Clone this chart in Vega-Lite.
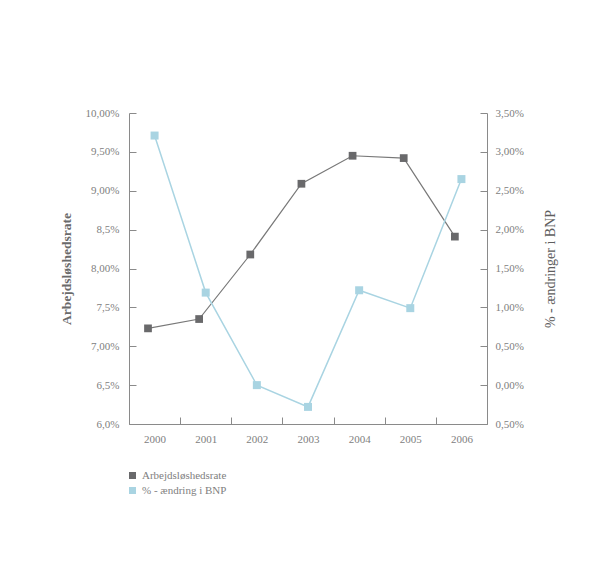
{
  "$schema": "https://vega.github.io/schema/vega-lite/v6.json",
  "autosize": {"type": "none"},
  "width": 358,
  "height": 311,
  "padding": {"left": 129, "top": 113, "right": 110, "bottom": 137},
  "background": "white",
  "config": {
    "view": {"stroke": null},
    "font": "Liberation Serif",
    "axis": {
      "grid": false,
      "domainColor": "#8a8a8a",
      "tickColor": "#8a8a8a",
      "tickSize": -7,
      "labelColor": "#808080",
      "labelFont": "Liberation Serif",
      "labelFontSize": 11,
      "titleFont": "Liberation Serif",
      "titleColor": "#6a6a6a",
      "titleFontSize": 13.5,
      "titleFontWeight": "bold"
    }
  },
  "data": {
    "values": [
      {"year": "2000", "serie": "Arbejdsløshedsrate", "value": 7.23},
      {"year": "2001", "serie": "Arbejdsløshedsrate", "value": 7.35},
      {"year": "2002", "serie": "Arbejdsløshedsrate", "value": 8.18},
      {"year": "2003", "serie": "Arbejdsløshedsrate", "value": 9.09},
      {"year": "2004", "serie": "Arbejdsløshedsrate", "value": 9.45},
      {"year": "2005", "serie": "Arbejdsløshedsrate", "value": 9.42},
      {"year": "2006", "serie": "Arbejdsløshedsrate", "value": 8.41},
      {"year": "2000", "serie": "% - ændring i BNP", "value": 3.21},
      {"year": "2001", "serie": "% - ændring i BNP", "value": 1.19},
      {"year": "2002", "serie": "% - ændring i BNP", "value": 0.0},
      {"year": "2003", "serie": "% - ændring i BNP", "value": -0.28},
      {"year": "2004", "serie": "% - ændring i BNP", "value": 1.22},
      {"year": "2005", "serie": "% - ændring i BNP", "value": 0.99},
      {"year": "2006", "serie": "% - ændring i BNP", "value": 2.65}
    ]
  },
  "encoding": {
    "x": {
      "field": "year",
      "type": "ordinal",
      "scale": {"paddingInner": 0, "paddingOuter": 0},
      "axis": {"title": null, "labelAngle": 0, "tickBand": "extent", "labelPadding": 16}
    },
    "color": {
      "field": "serie",
      "type": "nominal",
      "scale": {"domain": ["Arbejdsløshedsrate", "% - ændring i BNP"], "range": ["#69696b", "#a9d4e2"]},
      "legend": {
        "title": null,
        "orient": "none",
        "legendX": -2,
        "legendY": 357,
        "symbolType": "square",
        "symbolSize": 49,
        "symbolStrokeWidth": 0,
        "symbolOpacity": 1,
        "labelFont": "Liberation Serif",
        "labelFontSize": 11,
        "labelColor": "#808080",
        "rowPadding": 3,
        "labelOffset": 4
      }
    }
  },
  "layer": [
    {
      "transform": [{"filter": "datum.serie === 'Arbejdsløshedsrate'"}],
      "mark": {"type": "line", "strokeWidth": 1.2, "stroke": "#787878", "point": {"shape": "square", "filled": true, "size": 60, "color": "#69696b", "opacity": 1}},
      "encoding": {
        "xOffset": {"value": 19},
        "y": {
          "field": "value",
          "type": "quantitative",
          "scale": {"domain": [6, 10], "nice": false, "zero": false},
          "axis": {
            "title": "Arbejdsløshedsrate",
            "orient": "left",
            "values": [6, 6.5, 7, 7.5, 8, 8.5, 9, 9.5, 10],
            "labelPadding": 17,
            "titlePadding": 12,
            "labelExpr": "datum.value == 8.5 ? '8,5%' : datum.value == 7.5 ? '7,5%' : datum.value == 6.5 ? '6,5%' : datum.value == 6 ? '6,0%' : replace(format(datum.value, '.2f'), '.', ',') + '%'"
          }
        }
      }
    },
    {
      "transform": [{"filter": "datum.serie === '% - ændring i BNP'"}],
      "mark": {"type": "line", "strokeWidth": 1.5, "stroke": "#a9d4e2", "point": {"shape": "square", "filled": true, "size": 64, "color": "#a9d4e2", "opacity": 1}},
      "encoding": {
        "y": {
          "field": "value",
          "type": "quantitative",
          "scale": {"domain": [-0.5, 3.5], "nice": false, "zero": false},
          "axis": {
            "title": "% - ændringer i BNP",
            "orient": "right",
            "titleAngle": -90,
            "titleFontWeight": "normal",
            "titleFontSize": 14,
            "titleColor": "#5e5e5e",
            "values": [-0.5, 0, 0.5, 1, 1.5, 2, 2.5, 3, 3.5],
            "labelPadding": 15,
            "titlePadding": 34,
            "labelExpr": "replace(format(abs(datum.value), '.2f'), '.', ',') + '%'"
          }
        }
      }
    }
  ],
  "resolve": {"scale": {"y": "independent"}}
}
